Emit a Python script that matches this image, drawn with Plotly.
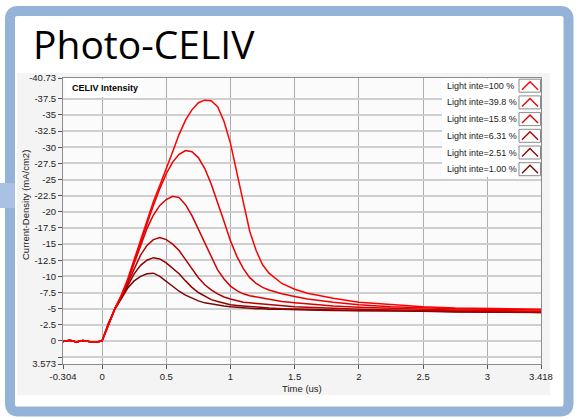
import plotly.graph_objects as go

# ---------------- data ----------------
time_us = [-0.304, -0.25, -0.2, -0.15, -0.1, -0.05, 0.0, 0.02, 0.05,
           0.1, 0.15, 0.2, 0.25, 0.3, 0.35, 0.4, 0.45, 0.5, 0.55, 0.6, 0.65,
           0.7, 0.75, 0.8, 0.85, 0.9, 0.95, 1.0, 1.05, 1.1, 1.15, 1.2, 1.25, 1.3,
           1.4, 1.5, 1.6, 1.8, 2.0, 2.25, 2.5, 2.75, 3.0, 3.25, 3.418]

baseline = [0.1, -0.1, 0.15, -0.05, 0.1, 0.2, 0.0, -1.0, -2.8]

i_100 = baseline + [-5.0, -7.1, -9.6, -12.6, -15.6, -18.7, -21.6, -24.1, -26.6, -29.3, -32.0, -34.2,
                    -35.8, -36.9, -37.3, -37.2, -36.3, -34.0, -30.6, -26.3, -21.5, -17.0, -14.0, -11.8, -10.5,
                    -8.9, -8.0, -7.4, -6.6, -6.0, -5.6, -5.3, -5.1, -5.0, -4.9, -4.9]
i_398 = baseline + [-5.0, -7.0, -9.4, -12.3, -15.2, -18.2, -21.0, -23.6, -25.9, -27.7, -28.9, -29.5,
                    -29.3, -28.4, -26.7, -24.3, -21.5, -18.5, -15.5, -13.1, -11.2, -9.8, -8.9, -8.3, -7.9,
                    -7.3, -6.9, -6.5, -6.0, -5.6, -5.3, -5.1, -5.0, -4.9, -4.8, -4.8]
i_158 = baseline + [-5.0, -6.9, -9.2, -12.0, -14.8, -17.4, -19.5, -21.0, -21.9, -22.4, -22.2, -21.1,
                    -19.4, -17.3, -15.1, -12.9, -11.0, -9.6, -8.5, -7.8, -7.3, -7.0, -6.8, -6.6, -6.4,
                    -6.1, -5.9, -5.7, -5.4, -5.2, -5.0, -4.9, -4.8, -4.7, -4.6, -4.6]
i_631 = baseline + [-5.0, -6.8, -8.9, -11.2, -13.3, -14.8, -15.7, -16.0, -15.7, -15.0, -14.0, -12.6,
                    -11.1, -9.8, -8.7, -7.9, -7.3, -6.8, -6.5, -6.2, -6.0, -5.9, -5.8, -5.7, -5.6,
                    -5.4, -5.3, -5.2, -5.0, -4.9, -4.8, -4.7, -4.7, -4.6, -4.5, -4.5]
i_251 = baseline + [-5.0, -6.7, -8.6, -10.4, -11.7, -12.5, -12.9, -12.7, -12.1, -11.3, -10.4, -9.3,
                    -8.3, -7.5, -6.9, -6.4, -6.1, -5.8, -5.6, -5.5, -5.4, -5.3, -5.2, -5.2, -5.1,
                    -5.0, -4.9, -4.9, -4.8, -4.7, -4.7, -4.6, -4.6, -4.5, -4.5, -4.4]
i_100b = baseline + [-4.9, -6.6, -8.2, -9.3, -10.0, -10.4, -10.5, -10.0, -9.2, -8.4, -7.7, -7.1,
                     -6.6, -6.2, -5.9, -5.7, -5.5, -5.4, -5.3, -5.2, -5.1, -5.1, -5.0, -5.0, -4.9,
                     -4.9, -4.8, -4.8, -4.7, -4.7, -4.6, -4.6, -4.5, -4.5, -4.4, -4.4]

series_names = ["Light inte=100 %", "Light inte=39.8 %", "Light inte=15.8 %",
                "Light inte=6.31 %", "Light inte=2.51 %", "Light inte=1.00 %"]
series_values = [i_100, i_398, i_158, i_631, i_251, i_100b]
series_colors = ["#ff0000", "#ea0000", "#d80000", "#b00000", "#920000", "#760808"]

x_tickvals = [-0.304, 0, 0.5, 1, 1.5, 2, 2.5, 3, 3.418]
x_ticktext = ["-0.304", "0", "0.5", "1", "1.5", "2", "2.5", "3", "3.418"]
y_tickvals = [-40.73, -37.5, -35, -32.5, -30, -27.5, -25, -22.5, -20, -17.5, -15, -12.5,
              -10, -7.5, -5, -2.5, 0, 2.5, 3.573]
y_ticktext = ["-40.73", "-37.5", "-35", "-32.5", "-30", "-27.5", "-25", "-22.5", "-20", "-17.5",
              "-15", "-12.5", "-10", "-7.5", "-5", "-2.5", "0", "", "3.573"]

# ---------------- layout geometry (pixels) ----------------
W_FIG, H_FIG = 578, 419
L, R, T, B = 63, 37, 78, 55
PW, PH = W_FIG - L - R, H_FIG - T - B
FONT = "Liberation Sans"


def px(x):
    return (x - L) / PW


def py(y):
    return (T + PH - y) / PH


fig = go.Figure()
for name, vals, col in reversed(list(zip(series_names, series_values, series_colors))):
    fig.add_trace(go.Scatter(x=time_us, y=vals, mode="lines", name=name,
                             line=dict(color=col, width=1.5), showlegend=False))

shapes = []
# slide frame and chart panel
shapes.append(dict(type="rect", xref="paper", yref="paper", layer="below",
                   x0=px(17), x1=px(550), y0=py(395), y1=py(73),
                   fillcolor="#f4f4f4", line=dict(width=0)))
shapes.append(dict(type="rect", xref="paper", yref="paper", layer="below",
                   x0=0, x1=1, y0=0, y1=1, fillcolor="#fbfbfb", line=dict(width=0)))
x0b, x1b, y0b, y1b, r = 10, 568.5, 11, 411.5, 8
path = (f"M {px(x0b + r)},{py(y0b)} L {px(x1b - r)},{py(y0b)} "
        f"Q {px(x1b)},{py(y0b)} {px(x1b)},{py(y0b + r)} L {px(x1b)},{py(y1b - r)} "
        f"Q {px(x1b)},{py(y1b)} {px(x1b - r)},{py(y1b)} L {px(x0b + r)},{py(y1b)} "
        f"Q {px(x0b)},{py(y1b)} {px(x0b)},{py(y1b - r)} L {px(x0b)},{py(y0b + r)} "
        f"Q {px(x0b)},{py(y0b)} {px(x0b + r)},{py(y0b)} Z")
shapes.append(dict(type="path", xref="paper", yref="paper", layer="above", path=path,
                   line=dict(color="#95b3d7", width=10)))
shapes.append(dict(type="rect", xref="paper", yref="paper", layer="above",
                   x0=px(0), x1=px(15), y0=py(208), y1=py(183),
                   fillcolor="#a9c1e2", line=dict(width=0)))

# title box and legend box
shapes.append(dict(type="rect", xref="paper", yref="paper", layer="above",
                   x0=px(66), x1=px(142), y0=py(97), y1=py(79),
                   fillcolor="white", line=dict(width=0)))
shapes.append(dict(type="rect", xref="paper", yref="paper", layer="above",
                   x0=px(442), x1=px(540.5), y0=py(177), y1=py(78.5),
                   fillcolor="white", line=dict(width=0)))

annotations = []
row_y = [85.7, 102.4, 119.1, 135.8, 152.5, 169.2]
for name, col, yc in zip(series_names, series_colors, row_y):
    annotations.append(dict(xref="paper", yref="paper", x=px(445), y=py(yc), text=name,
                            showarrow=False, xanchor="left", yanchor="middle",
                            font=dict(family=FONT, size=9, color="#222")))
    shapes.append(dict(type="rect", xref="paper", yref="paper", layer="above",
                       x0=px(519), x1=px(540.5), y0=py(yc + 6.5), y1=py(yc - 6.5),
                       fillcolor="white", line=dict(color="#8a8a8a", width=1)))
    shapes.append(dict(type="path", xref="paper", yref="paper", layer="above",
                       path=f"M {px(522)},{py(yc + 4)} L {px(530)},{py(yc - 4)} L {px(538)},{py(yc + 4)}",
                       line=dict(color=col, width=1.4)))

annotations += [
    dict(xref="paper", yref="paper", x=px(31), y=py(44), text="Photo-CELIV", showarrow=False,
         xanchor="left", yanchor="middle", font=dict(family="Open Sans", size=39, color="black")),
    dict(xref="paper", yref="paper", x=px(70), y=py(88), text="<b>CELIV Intensity</b>", showarrow=False,
         xanchor="left", yanchor="middle", font=dict(family=FONT, size=9, color="black")),
    dict(xref="paper", yref="paper", x=px(25), y=py(205), text="Current-Density (mA/cm2)",
         showarrow=False, textangle=-90, xanchor="center", yanchor="middle",
         font=dict(family=FONT, size=9.5, color="#222")),
    dict(xref="paper", yref="paper", x=px(302), y=py(388), text="Time (us)", showarrow=False,
         xanchor="center", yanchor="middle",
         font=dict(family=FONT, size=9.5, color="#222")),
]

fig.update_layout(
    width=W_FIG, height=H_FIG, margin=dict(l=L, r=R, t=T, b=B),
    paper_bgcolor="white", plot_bgcolor="#fbfbfb",
    shapes=shapes, annotations=annotations, showlegend=False,
    font=dict(family=FONT, size=9.5, color="#222"),
)
fig.update_xaxes(range=[-0.304, 3.418], tickvals=x_tickvals, ticktext=x_ticktext,
                 showgrid=True, gridcolor="#ababab", gridwidth=1, zeroline=False,
                 showline=True, linecolor="#8c8c8c", linewidth=1, mirror=True,
                 ticks="outside", ticklen=4, tickcolor="#555",
                 tickfont=dict(family=FONT, size=9.5, color="#222"))
fig.update_yaxes(range=[3.573, -40.73], tickvals=y_tickvals, ticktext=y_ticktext,
                 showgrid=True, gridcolor="#cfcfcf", gridwidth=1.6, zeroline=False,
                 showline=True, linecolor="#8c8c8c", linewidth=1, mirror=True,
                 ticks="outside", ticklen=4, tickcolor="#555",
                 tickfont=dict(family=FONT, size=9.5, color="#222"))

fig.write_html("out.html")
